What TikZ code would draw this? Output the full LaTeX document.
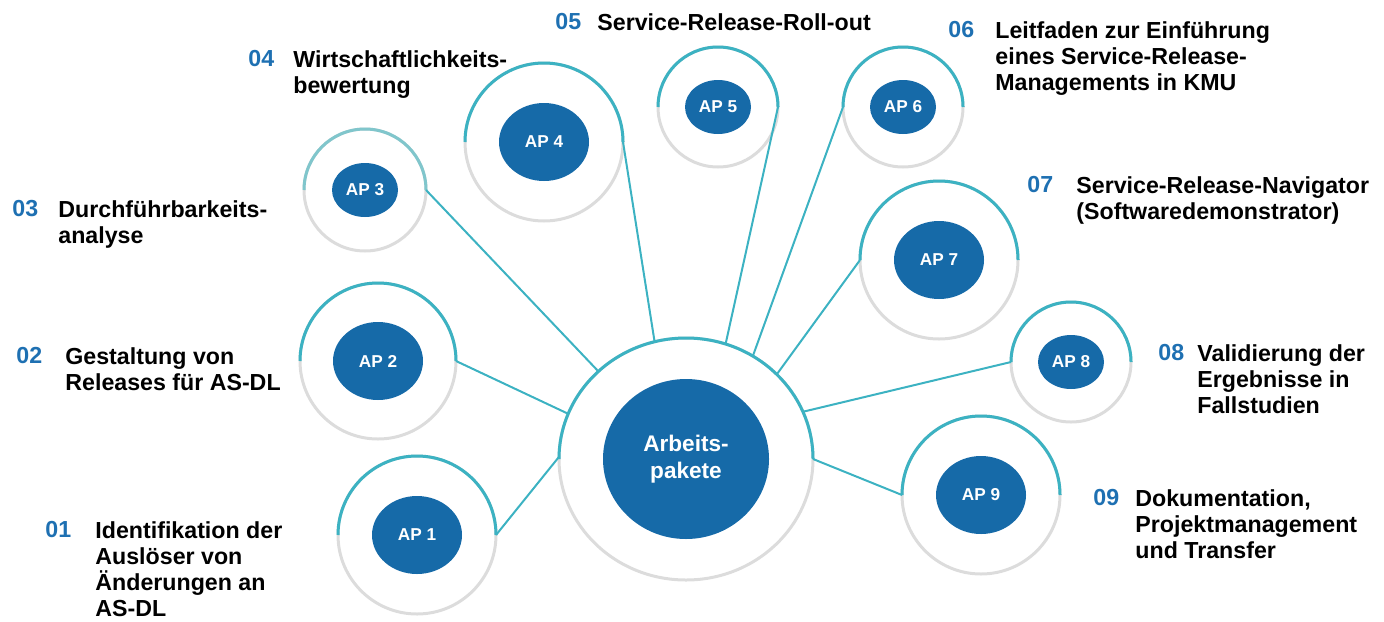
\documentclass[tikz,border=0pt]{standalone}
\usepackage{fontspec}
\setmainfont{Liberation Sans}
\usetikzlibrary{shapes.geometric}
\definecolor{apblue}{RGB}{22,106,168}
\definecolor{numblue}{RGB}{30,112,178}
\definecolor{ringteal}{RGB}{60,178,194}
\definecolor{ringpale}{RGB}{128,198,204}
\definecolor{ringgrey}{RGB}{220,220,220}
\newcommand{\lbl}{\fontsize{11.6}{13.1}\selectfont\bfseries}
\newcommand{\toparc}[3][ringteal]{\draw[draw=#1, line width=1.5pt] (#2.west) arc[start angle=180, end angle=0, radius=#3];}
\tikzset{
	ring/.style={circle, draw=ringgrey, line width=1.5pt, inner sep=0pt, outer sep=0pt, minimum size=#1},
	hubring/.style={ellipse, draw=ringgrey, line width=1.5pt, inner sep=0pt, outer sep=0pt, minimum width=127pt, minimum height=121pt},
	hubdisk/.style={ellipse, fill=apblue, inner sep=0pt, minimum width=83pt, minimum height=80pt, text=white, align=center, font=\fontsize{11.3}{13.7}\selectfont\bfseries},
	apbig/.style={ellipse, fill=apblue, inner sep=0pt, minimum width=45pt, minimum height=39pt, text=white, font=\fontsize{8.6}{10}\selectfont\bfseries},
	apsmall/.style={apbig, minimum width=33pt, minimum height=27pt},
	link/.style={draw=ringteal, line width=1pt},
	num/.style={anchor=north west, inner sep=0pt, text=numblue, font=\lbl},
	desc/.style={anchor=north west, inner sep=0pt, align=left, font=\lbl}
}
\begin{document}
\begin{tikzpicture}[x=0.5pt, y=-0.5pt]
	\useasboundingbox (0,0) rectangle (1384,621);

	\node[hubring] (hub) at (686,459) {};
	\draw[draw=ringteal, line width=1.5pt] (hub.west) arc[start angle=180, end angle=0, x radius=63.5pt, y radius=60.5pt];

	\node[ring=79pt] (r1) at (417,535) {};
	\node[ring=78pt] (r2) at (378,361) {};
	\node[ring=61pt] (r3) at (365,190) {};
	\node[ring=79pt] (r4) at (544,142) {};
	\node[ring=60pt] (r5) at (718,107) {};
	\node[ring=60pt] (r6) at (903,107) {};
	\node[ring=79pt] (r7) at (939,260) {};
	\node[ring=60pt] (r8) at (1071,362) {};
	\node[ring=79pt] (r9) at (981,495) {};
	\toparc{r1}{39.5pt}
	\toparc{r2}{39pt}
	\toparc[ringpale]{r3}{30.5pt}
	\toparc{r4}{39.5pt}
	\toparc{r5}{30pt}
	\toparc{r6}{30pt}
	\toparc{r7}{39.5pt}
	\toparc{r8}{30pt}
	\toparc{r9}{39.5pt}

	\path[link]
	(r1.east) edge (hub.179)
	(r2.east) edge (hub.159)
	(r3.east) edge (hub.135)
	(r4.east) edge (hub.105)
	(r5.east) edge (hub.71)
	(r6.west) edge (hub.57)
	(r7.west) edge (hub.43)
	(r8.west) edge (hub.22)
	(r9.west) edge (hub.east);

	\node[hubdisk] (core) at (hub) {Arbeits-\\pakete};
	\node[apbig] (ap1) at (r1) {AP 1};
	\node[apbig] (ap2) at (r2) {AP 2};
	\node[apsmall] (ap3) at (r3) {AP 3};
	\node[apbig] (ap4) at (r4) {AP 4};
	\node[apsmall] (ap5) at (r5) {AP 5};
	\node[apsmall] (ap6) at (r6) {AP 6};
	\node[apbig] (ap7) at (r7) {AP 7};
	\node[apsmall] (ap8) at (r8) {AP 8};
	\node[apbig] (ap9) at (r9) {AP 9};

	\node[num] (n1) at (45,521) {01};
	\node[desc] (t1) at (95,521) {Identifikation der\\Auslöser von\\Änderungen an\\AS-DL};
	\node[num] (n2) at (16,347) {02};
	\node[desc] (t2) at (65,347) {Gestaltung von\\Releases für AS-DL};
	\node[num] (n3) at (12,200) {03};
	\node[desc] (t3) at (58,200) {Durchführbarkeits-\\analyse};
	\node[num] (n4) at (248,50) {04};
	\node[desc] (t4) at (293,50) {Wirtschaftlichkeits-\\bewertung};
	\node[num] (n5) at (555,13) {05};
	\node[desc] (t5) at (597,13) {Service-Release-Roll-out};
	\node[num] (n6) at (948,21) {06};
	\node[desc] (t6) at (995,21) {Leitfaden zur Einführung\\eines Service-Release-\\Managements in KMU};
	\node[num] (n7) at (1027,176) {07};
	\node[desc] (t7) at (1076,176) {Service-Release-Navigator\\(Softwaredemonstrator)};
	\node[num] (n8) at (1158,344) {08};
	\node[desc] (t8) at (1197,344) {Validierung der\\Ergebnisse in\\Fallstudien};
	\node[num] (n9) at (1093,489) {09};
	\node[desc] (t9) at (1135,489) {Dokumentation,\\Projektmanagement\\und Transfer};
\end{tikzpicture}
\end{document}
